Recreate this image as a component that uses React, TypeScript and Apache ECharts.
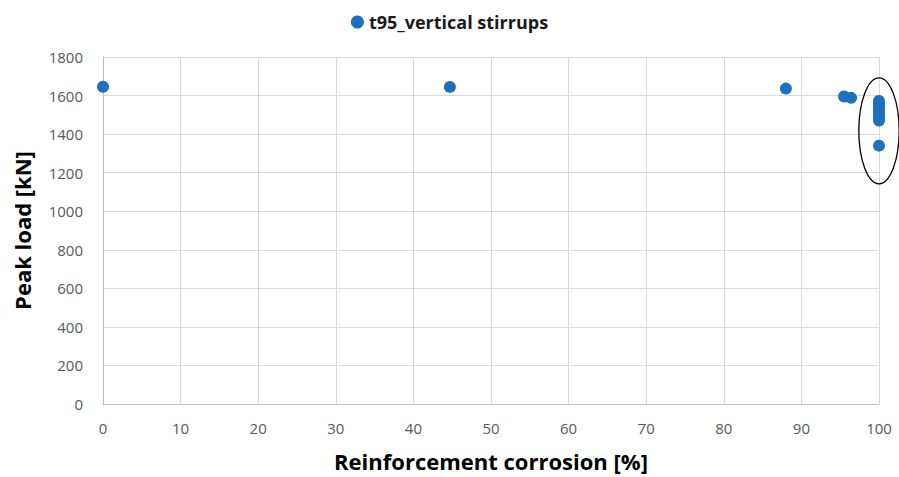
import React, { useEffect, useRef } from "react";
import * as echarts from "echarts";

// Reinforcement corrosion [%] vs peak load [kN]
const corrosion = [0, 44.7, 88.0, 95.5, 96.4, 100, 100, 100, 100, 100, 100, 100, 100];
const peakLoad = [1646, 1645, 1636, 1595, 1588, 1572, 1556, 1540, 1522, 1504, 1488, 1470, 1340];
const seriesName = "t95_vertical stirrups";

// Annotation ellipse around the fully corroded group (data coordinates)
const ellipseCenter = [100, 1417];
const ellipseHalfHeight = 275; // kN
const ellipseHalfWidth = 2.6; // %

const xTicks = { min: 0, max: 100, interval: 10 };
const yTicks = { min: 0, max: 1800, interval: 200 };

const FONT = "'Open Sans', 'Noto Sans', sans-serif";

export default function App() {
  const ref = useRef<HTMLDivElement>(null);

  useEffect(() => {
    if (!ref.current) return;
    document.body.style.margin = "0";
    const chart = echarts.init(ref.current, undefined, { renderer: "svg" });
    chart.setOption({
      animation: false,
      textStyle: { fontFamily: FONT },
      legend: {
        top: 8,
        left: "center",
        itemWidth: 13,
        itemHeight: 13,
        itemGap: 6,
        textStyle: { fontSize: 18, fontWeight: "bold", color: "#1a1a1a", fontFamily: FONT },
        data: [{ name: seriesName, icon: "circle" }],
      },
      grid: { left: 103, right: 20, top: 57, bottom: 70, containLabel: false },
      xAxis: {
        type: "value",
        min: xTicks.min,
        max: xTicks.max,
        interval: xTicks.interval,
        name: "Reinforcement corrosion [%]",
        nameLocation: "middle",
        nameGap: 46,
        nameTextStyle: { fontSize: 22, fontWeight: "bold", color: "#000", fontFamily: FONT },
        axisLine: { show: true, lineStyle: { color: "#bfbfbf" } },
        axisTick: { show: false },
        axisLabel: { fontSize: 15, color: "#595959", margin: 16, formatter: (v: number) => String(v) },
        splitLine: { show: true, lineStyle: { color: "#d9d9d9" } },
      },
      yAxis: {
        type: "value",
        min: yTicks.min,
        max: yTicks.max,
        interval: yTicks.interval,
        name: "Peak load [kN]",
        nameLocation: "middle",
        nameGap: 70,
        nameTextStyle: { fontSize: 22, fontWeight: "bold", color: "#000", fontFamily: FONT },
        axisLine: { show: true, lineStyle: { color: "#bfbfbf" } },
        axisTick: { show: false },
        axisLabel: { fontSize: 15, color: "#595959", margin: 20, formatter: (v: number) => String(v) },
        splitLine: { show: true, lineStyle: { color: "#d9d9d9" } },
      },
      series: [
        {
          name: seriesName,
          type: "scatter",
          symbol: "circle",
          symbolSize: 12,
          itemStyle: { color: "#1c70bd", opacity: 1 },
          data: corrosion.map((x, i) => [x, peakLoad[i]]),
        },
      ],
    });

    const c = chart.convertToPixel({ gridIndex: 0 }, ellipseCenter);
    const top = chart.convertToPixel({ gridIndex: 0 }, [ellipseCenter[0], ellipseCenter[1] + ellipseHalfHeight]);
    const side = chart.convertToPixel({ gridIndex: 0 }, [ellipseCenter[0] + ellipseHalfWidth, ellipseCenter[1]]);
    chart.setOption({
      graphic: [
        {
          type: "ellipse",
          z: 100,
          shape: { cx: c[0], cy: c[1], rx: side[0] - c[0], ry: c[1] - top[1] },
          style: { fill: "none", stroke: "#000", lineWidth: 1.3 },
        },
      ],
    });

    return () => chart.dispose();
  }, []);

  return <div ref={ref} style={{ width: 899, height: 477 }} />;
}
